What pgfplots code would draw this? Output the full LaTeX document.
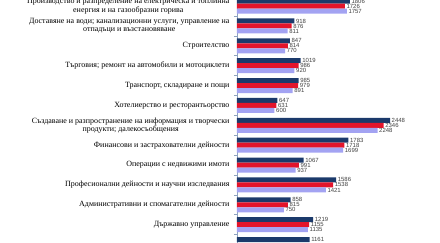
\documentclass[border=0pt]{standalone}
\usepackage{pgfplots}
\pgfplotsset{compat=1.18}
\usepackage{fontspec}
\setmainfont{Liberation Serif}
\newfontfamily\numfont{Liberation Sans}
\definecolor{cA}{HTML}{1B3A6B}
\definecolor{cB}{HTML}{E3142B}
\definecolor{cC}{HTML}{A3A3F2}
\definecolor{axc}{HTML}{8EA3C0}
\begin{document}
\begin{tikzpicture}
\path[use as bounding box] (-237bp,0) rectangle (203bp,243bp);
\begin{axis}[
  at={(0,-5.5bp)}, anchor=south west,
  scale only axis, width=203bp, height=248.5bp,
  xmin=0, xmax=3248,
  ymin=-0.307, ymax=12.2, y dir=reverse,
  axis lines*=left,
  x axis line style={draw=none},
  y axis line style={draw=axc, line width=0.8pt},
  xtick=\empty,
  ytick={0,...,11},
  minor ytick={-0.5,0.5,1.5,...,11.5},
  major tick length=0pt,
  minor tick length=3bp,
  tick align=outside,
  minor tick style={draw=axc, line width=0.6pt},
  yticklabels={
    {Производство и разпределение на електрическа и топлинна\\енергия и на газообразни горива},
    {Доставяне на води; канализационни услуги, управление на\\отпадъци и възстановяване},
    {Строителство},
    {Търговия; ремонт на автомобили и мотоциклети},
    {Транспорт, складиране и пощи},
    {Хотелиерство и ресторантьорство},
    {Създаване и разпространение на информация и творчески\\продукти; далекосъобщения},
    {Финансови и застрахователни дейности},
    {Операции с недвижими имоти},
    {Професионални дейности и научни изследвания},
    {Административни и спомагателни дейности},
    {Държавно управление}},
  yticklabel style={font=\fontsize{8}{8.4}\selectfont, align=center, xshift=-4bp},
  xbar, bar width=5bp,
  nodes near coords,
  nodes near coords style={font=\numfont\fontsize{6}{6}\selectfont, text=black!75, anchor=west, inner sep=1.5bp},
  /pgf/number format/assume math mode=true,
  /pgf/number format/1000 sep={},
]
\addplot[fill=cA, draw=none, bar shift=5bp] coordinates {
(1806,0) (918,1) (847,2) (1019,3) (985,4) (647,5) (2448,6) (1783,7) (1067,8) (1586,9) (858,10) (1219,11) (1161,12)};
\addplot[fill=cB, draw=none, bar shift=0bp] coordinates {
(1726,0) (876,1) (814,2) (986,3) (979,4) (631,5) (2346,6) (1718,7) (991,8) (1538,9) (815,10) (1155,11)};
\addplot[fill=cC, draw=none, bar shift=-5bp] coordinates {
(1757,0) (811,1) (770,2) (920,3) (891,4) (600,5) (2248,6) (1699,7) (937,8) (1421,9) (750,10) (1135,11)};
\end{axis}
\end{tikzpicture}
\end{document}
